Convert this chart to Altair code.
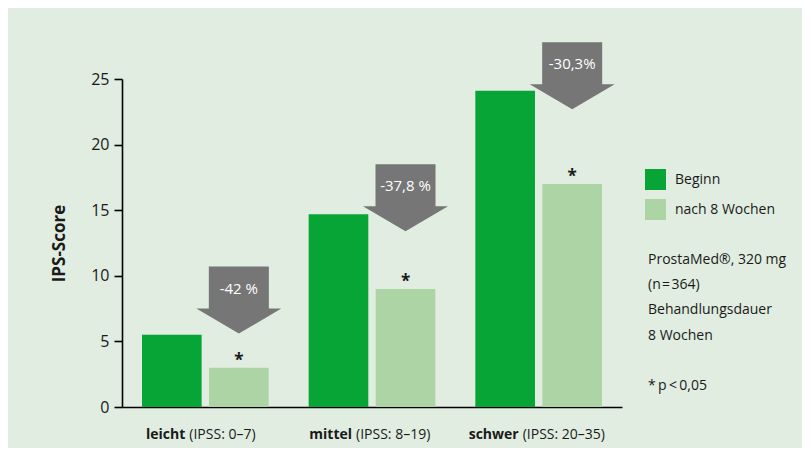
import altair as alt
import pandas as pd

# ---- data ----
groups = ["leicht", "mittel", "schwer"]
ranges = ["(IPSS: 0–7)", "(IPSS: 8–19)", "(IPSS: 20–35)"]
series = ["Beginn", "nach 8 Wochen"]
beginn = [5.5, 14.7, 24.1]
nach = [3.0, 9.0, 17.0]
changes = ["-42 %", "-37,8 %", "-30,3%"]
arrow_top = [10.7, 18.5, 27.8]
notes = ["ProstaMed®, 320 mg", "(n\u200a=\u200a364)", "Behandlungsdauer", "8 Wochen"]
footnote = "*\u2009p\u2009<\u20090,05"
colors = ["#06a535", "#acd4a4"]

FONT = "Open Sans"
TXT = "#1a1a1a"

bars_df = pd.DataFrame(
    [{"group": g, "series": series[0], "value": v} for g, v in zip(groups, beginn)]
    + [{"group": g, "series": series[1], "value": v} for g, v in zip(groups, nach)]
)
ann_df = pd.DataFrame({
    "group": groups,
    "series": [series[1]] * 3,
    "nach": nach,
    "top": arrow_top,
    "change": changes,
    "range": ranges,
})

x_enc = alt.X("group:N", sort=groups,
              scale=alt.Scale(domain=groups, paddingInner=0.24, paddingOuter=0.12),
              axis=alt.Axis(title=None, labels=False, ticks=False, domain=True,
                            domainColor="black", domainWidth=1.6))
xo_enc = alt.XOffset("series:N", scale=alt.Scale(domain=series, paddingInner=0.11, paddingOuter=0))
y_scale = alt.Scale(domain=[0, 25], nice=False)

bars = alt.Chart(bars_df).mark_bar().encode(
    x=x_enc,
    xOffset=xo_enc,
    y=alt.Y("value:Q", scale=y_scale,
            axis=alt.Axis(title="IPS-Score", values=[0, 5, 10, 15, 20, 25], grid=False,
                          domainColor="black", domainWidth=1.6, tickColor="black",
                          tickWidth=1.6, tickSize=8, labelFontSize=16, labelColor=TXT,
                          labelFont=FONT, labelPadding=5, titleFont=FONT,
                          titleFontSize=17, titleFontWeight="bold", titleColor=TXT,
                          titlePadding=22)),
    color=alt.Color("series:N", scale=alt.Scale(domain=series, range=colors),
                    legend=alt.Legend(title=None, orient="none", legendX=523, legendY=90,
                                      symbolType="square", symbolSize=441,
                                      symbolStrokeWidth=0, symbolOpacity=1,
                                      labelFont=FONT, labelFontSize=14, labelColor=TXT,
                                      labelOffset=9, rowPadding=9, padding=0)),
)

arrow_path = "M-0.706,0L0.706,0L0.706,0.988L1,0.988L0,1.576L-1,0.988L-0.706,0.988Z"
arrows = alt.Chart(ann_df).mark_point(shape=arrow_path, size=7225, filled=True,
                                      opacity=1, color="#767676", strokeWidth=0).encode(
    x=alt.X("group:N", sort=groups),
    xOffset=alt.XOffset("series:N"),
    y=alt.Y("top:Q", scale=y_scale),
)
arrow_text = alt.Chart(ann_df).mark_text(font=FONT, fontSize=15, color="white",
                                         baseline="middle", dy=22).encode(
    x=alt.X("group:N", sort=groups),
    xOffset=alt.XOffset("series:N"),
    y=alt.Y("top:Q", scale=y_scale),
    text="change:N",
)
stars = alt.Chart(ann_df).mark_text(font=FONT, fontSize=17, color=TXT, fontWeight="bold",
                                    baseline="alphabetic", dy=-2).encode(
    x=alt.X("group:N", sort=groups),
    xOffset=alt.XOffset("series:N"),
    y=alt.Y("nach:Q", scale=y_scale),
    text=alt.value("*"),
)
lab_bold = alt.Chart(ann_df).mark_text(font=FONT, fontSize=14, fontWeight="bold", color=TXT,
                                       align="right", baseline="middle", dx=-20, dy=28).encode(
    x=alt.X("group:N", sort=groups),
    y=alt.datum(0),
    text="group:N",
)
lab_norm = alt.Chart(ann_df).mark_text(font=FONT, fontSize=14, color=TXT,
                                       align="left", baseline="middle", dx=-16, dy=28).encode(
    x=alt.X("group:N", sort=groups),
    y=alt.datum(0),
    text="range:N",
)
note_text = alt.Chart(pd.DataFrame({"a": [0]})).mark_text(
    font=FONT, fontSize=14, color=TXT, align="left", baseline="alphabetic", lineHeight=25.2
).encode(x=alt.value(526), y=alt.value(185), text=alt.value(notes))
foot_text = alt.Chart(pd.DataFrame({"a": [0]})).mark_text(
    font=FONT, fontSize=14, color=TXT, align="left", baseline="alphabetic"
).encode(x=alt.value(526), y=alt.value(311), text=alt.value(footnote))

chart = alt.layer(bars, arrows, arrow_text, stars, lab_bold, lab_norm, note_text,
                  foot_text).properties(
    width=500, height=328,
    autosize=alt.AutoSizeParams(type="none"),
    padding={"left": 114, "top": 71, "right": 180, "bottom": 41},
    background="#e0ede0",
).configure_view(stroke=None)

chart.save("out.html", embed_options={"renderer": "svg", "actions": False})
